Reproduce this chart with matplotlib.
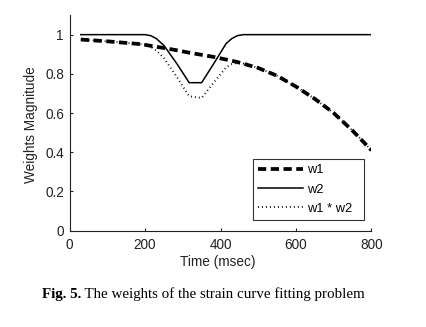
import matplotlib
matplotlib.use("Agg")
import matplotlib.pyplot as plt
import numpy as np

# Time grid (msec) shared by both weight functions
time_ms = [30, 100, 180, 200, 215, 230, 250, 285, 317, 350, 383, 415, 430,
           445, 460, 500, 550, 600, 650, 700, 750, 800]

# w1: slowly decaying weight
w1 = [0.975, 0.966, 0.953, 0.948, 0.943, 0.938, 0.932, 0.920, 0.908, 0.897,
      0.886, 0.873, 0.867, 0.860, 0.852, 0.830, 0.790, 0.735, 0.672, 0.600,
      0.510, 0.410]

# w2: notch weight with a dip between ~200 and ~460 msec
w2 = [1.0, 1.0, 1.0, 1.0, 0.995, 0.98, 0.945, 0.85, 0.755, 0.755, 0.855,
      0.955, 0.98, 0.995, 1.0, 1.0, 1.0, 1.0, 1.0, 1.0, 1.0, 1.0]

x_ticks = [0, 200, 400, 600, 800]
y_ticks = [0, 0.2, 0.4, 0.6, 0.8, 1.0]
y_tick_labels = ["0", "0.2", "0.4", "0.6", "0.8", "1"]

w12 = np.array(w1) * np.array(w2)

plt.rcParams["font.family"] = ["Liberation Sans", "DejaVu Sans"]

fig = plt.figure(figsize=(4.27, 3.27), dpi=100)
ax = fig.add_axes([0.1628, 0.2945, 0.7072, 0.6595])

ax.plot(time_ms, w1, color="black", lw=2.7, dashes=(2.2, 1.2), label="w1",
        dash_capstyle="butt")
ax.plot(time_ms, w2, color="black", lw=1.1, label="w2")
ax.plot(time_ms, w12, color="black", lw=1.4, dashes=(0.45, 1.6), label="w1 * w2",
        dash_capstyle="butt")

ax.set_xlim(0, 800)
ax.set_ylim(0, 1.1)
ax.set_xticks(x_ticks)
ax.set_xticklabels([str(v) for v in x_ticks])
ax.set_yticks(y_ticks)
ax.set_yticklabels(y_tick_labels)

for side in ("top", "right"):
    ax.spines[side].set_visible(False)
for side in ("left", "bottom"):
    ax.spines[side].set_linewidth(0.8)
    ax.spines[side].set_color("#222222")

ax.tick_params(direction="in", length=2.5, width=0.8, labelsize=9.8,
               colors="#222222", pad=4)
ax.tick_params(axis="x", pad=5.5)

ax.set_xlabel("Time (msec)", fontsize=9.8, color="#222222")
ax.set_ylabel("Weights Magnitude", fontsize=9.8, color="#222222")
ax.xaxis.set_label_coords(0.49, -0.112)
ax.yaxis.set_label_coords(-0.104, 0.49)

leg = ax.legend(loc="lower left", bbox_to_anchor=(0.608, 0.05, 0.367, 0.296),
                mode="expand", fontsize=9.3, frameon=True, fancybox=False,
                handlelength=3.5, handletextpad=0.3, borderpad=0.4,
                labelspacing=0.55, borderaxespad=0)
leg.get_frame().set_edgecolor("black")
leg.get_frame().set_linewidth(0.8)

# Caption under the plot
cap1 = fig.text(42 / 427, 1 - 298 / 327, "Fig. 5.", family="Liberation Serif",
                weight="bold", fontsize=10.8, va="baseline", ha="left")
fig.canvas.draw()
ax.annotate(" The weights of the strain curve fitting problem",
            xy=(1, 0), xycoords=cap1, va="bottom", ha="left",
            family="Liberation Serif", fontsize=10.8, annotation_clip=False)

fig.savefig("out.png", dpi=100)
